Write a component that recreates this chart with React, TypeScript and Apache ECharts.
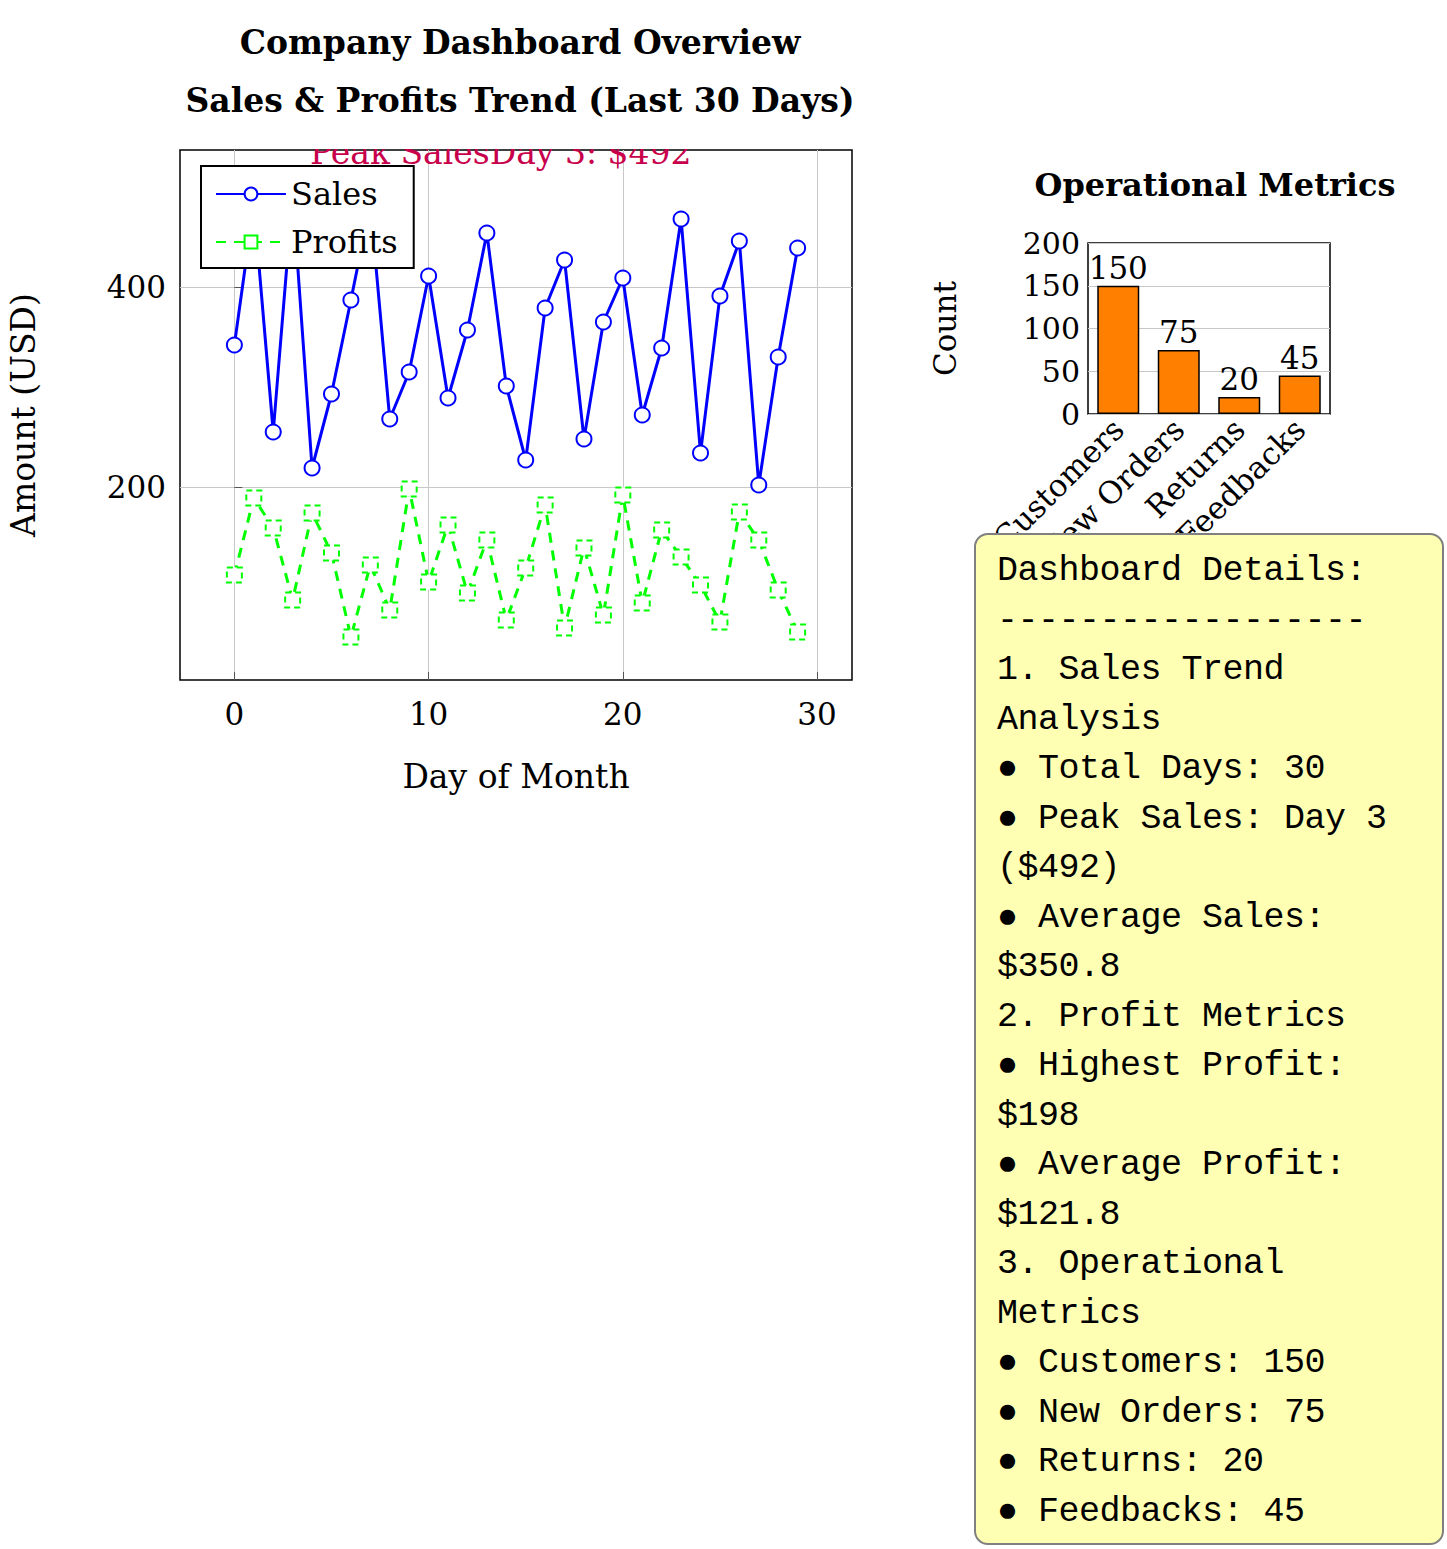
import { useRef, useEffect } from 'react';
import * as echarts from 'echarts';

const days = Array.from({ length: 30 }, (_, i) => i);
const sales = [342, 482, 255, 492, 219, 293, 387, 483, 268, 315, 411, 289, 357, 454, 301, 227, 379, 427, 248, 365, 409, 272, 339, 468, 234, 391, 446, 202, 330, 439];
const profits = [112, 189, 159, 87, 174, 134, 50, 122, 77, 198, 105, 162, 94, 147, 67, 119, 182, 59, 139, 72, 192, 84, 157, 130, 102, 65, 175, 147, 97, 55];
const metricNames = ['Customers', 'New Orders', 'Returns', 'Feedbacks'];
const metricValues = [150, 75, 20, 45];
const detailLines = [
  'Dashboard Details:',
  '------------------',
  '1. Sales Trend',
  'Analysis',
  '● Total Days: 30',
  '● Peak Sales: Day 3',
  '($492)',
  '● Average Sales:',
  '$350.8',
  '2. Profit Metrics',
  '● Highest Profit:',
  '$198',
  '● Average Profit:',
  '$121.8',
  '3. Operational',
  'Metrics',
  '● Customers: 150',
  '● New Orders: 75',
  '● Returns: 20',
  '● Feedbacks: 45',
];

const SERIF = "'DejaVu Serif', 'Liberation Serif', serif";

export default function App() {
  const chartRef = useRef<HTMLDivElement>(null);

  useEffect(() => {
    document.body.style.margin = '0';
    if (!chartRef.current) return;
    const chart = echarts.init(chartRef.current, undefined, { renderer: 'svg' });

    const option: echarts.EChartsOption = {
      animation: false,
      textStyle: { fontFamily: SERIF },
      title: [
        {
          text: 'Company Dashboard Overview\nSales & Profits Trend (Last 30 Days)',
          left: 515,
          top: 8,
          textAlign: 'center',
          textStyle: { fontSize: 33, fontWeight: 'bold', color: '#000', lineHeight: 58, fontFamily: SERIF },
        },
        {
          text: 'Operational Metrics',
          left: 1210,
          top: 164,
          textAlign: 'center',
          textStyle: { fontSize: 32, fontWeight: 'bold', color: '#000', fontFamily: SERIF },
        },
      ],
      legend: {
        left: 201,
        top: 166,
        orient: 'vertical',
        backgroundColor: '#fff',
        borderColor: '#000',
        borderWidth: 2,
        borderRadius: 0,
        padding: [12, 16, 10, 14],
        itemGap: 16,
        itemWidth: 70,
        itemHeight: 16,
        z: 20,
        data: ['Sales', 'Profits'],
        textStyle: { fontSize: 32, color: '#000', fontFamily: SERIF },
      },
      grid: [
        { left: 180, top: 150, width: 672, height: 530, show: true, borderColor: '#000', borderWidth: 1.5, backgroundColor: 'transparent' },
        { left: 1088, top: 243, width: 242, height: 171, show: true, borderColor: '#000', borderWidth: 1.5, backgroundColor: 'transparent' },
      ],
      xAxis: [
        {
          type: 'value',
          gridIndex: 0,
          min: -2.8,
          max: 31.8,
          name: 'Day of Month',
          nameLocation: 'middle',
          nameGap: 80,
          nameTextStyle: { fontSize: 33, color: '#000', fontFamily: SERIF },
          axisLine: { show: false },
          axisTick: { inside: true, length: 8, lineStyle: { color: '#555' }, customValues: [0, 10, 20, 30] },
          axisLabel: { fontSize: 31, color: '#000', margin: 18, customValues: [0, 10, 20, 30], fontFamily: SERIF },
          splitLine: { show: true, lineStyle: { color: '#c8c8c8' } },
        },
        {
          type: 'category',
          gridIndex: 1,
          data: metricNames,
          axisLine: { show: false },
          axisTick: { inside: true, alignWithLabel: true, length: 6, lineStyle: { color: '#555' } },
          axisLabel: { fontSize: 31, color: '#000', rotate: 45, margin: 10, interval: 0, fontFamily: SERIF },
        },
      ],
      yAxis: [
        {
          type: 'value',
          gridIndex: 0,
          min: 7,
          max: 537,
          name: 'Amount (USD)',
          nameLocation: 'middle',
          nameGap: 140,
          nameTextStyle: { fontSize: 33, color: '#000', fontFamily: SERIF },
          axisLine: { show: false },
          axisTick: { inside: true, length: 8, lineStyle: { color: '#555' }, customValues: [200, 400] },
          axisLabel: { fontSize: 31, color: '#000', margin: 14, customValues: [200, 400], fontFamily: SERIF },
          splitLine: { show: true, lineStyle: { color: '#c8c8c8' } },
        },
        {
          type: 'value',
          gridIndex: 1,
          min: 0,
          max: 200,
          interval: 50,
          name: 'Count',
          nameLocation: 'middle',
          nameGap: 128,
          nameTextStyle: { fontSize: 31, color: '#000', fontFamily: SERIF },
          axisLine: { show: false },
          axisTick: { inside: true, length: 6, lineStyle: { color: '#555' } },
          axisLabel: { fontSize: 30, color: '#000', margin: 8, fontFamily: SERIF },
          splitLine: { show: true, lineStyle: { color: '#c8c8c8' } },
        },
      ],
      series: [
        {
          name: 'Sales',
          type: 'line',
          xAxisIndex: 0,
          yAxisIndex: 0,
          data: days.map((d, i) => [d, sales[i]]),
          symbol: 'emptyCircle',
          symbolSize: 15,
          color: '#0000ff',
          lineStyle: { width: 3, color: '#0000ff' },
          itemStyle: { borderWidth: 3, color: '#0000ff', borderColor: '#0000ff' },
          z: 3,
        },
        {
          name: 'Profits',
          type: 'line',
          xAxisIndex: 0,
          yAxisIndex: 0,
          data: days.map((d, i) => [d, profits[i]]),
          symbol: 'emptyRect',
          symbolSize: 15,
          color: '#00ff00',
          lineStyle: { width: 3, color: '#00ff00', type: [10, 8] },
          itemStyle: { borderWidth: 3, color: '#00ff00', borderColor: '#00ff00', borderType: [6, 4] },
          z: 2,
        },
        {
          type: 'bar',
          xAxisIndex: 1,
          yAxisIndex: 1,
          data: metricValues,
          barWidth: 42,
          itemStyle: { color: '#ff7f00', borderColor: '#000', borderWidth: 1.5 },
          label: { show: true, position: 'top', fontSize: 31, color: '#000', distance: 2, fontFamily: SERIF },
        },
      ],
      graphic: [
        {
          type: 'text',
          left: 310,
          top: 136,
          z: 1,
          style: { text: 'Peak SalesDay 3: $492', fontSize: 33, fill: '#c8004b', fontFamily: SERIF },
        },
        {
          type: 'rect',
          shape: { x: 180, y: 120, width: 672, height: 29 },
          z: 2,
          style: { fill: '#fff' },
        },
      ],
    };

    chart.setOption(option);
    return () => chart.dispose();
  }, []);

  return (
    <div style={{ position: 'relative', width: 1447, height: 1549 }}>
      <div ref={chartRef} style={{ width: 1447, height: 1549 }} />
      <div
        style={{
          position: 'absolute',
          left: 974,
          top: 533,
          width: 470,
          height: 1012,
          boxSizing: 'border-box',
          background: '#ffffb3',
          border: '2px solid #808080',
          borderRadius: 14,
          padding: '12px 0 0 21px',
          fontFamily: "'Liberation Mono', 'DejaVu Sans Mono', monospace",
          fontSize: 35,
          letterSpacing: '-0.5px',
          lineHeight: '49.5px',
          color: '#000',
          whiteSpace: 'pre',
        }}
      >
        {detailLines.map((l, i) => (
          <div key={i}>{l}</div>
        ))}
      </div>
    </div>
  );
}
